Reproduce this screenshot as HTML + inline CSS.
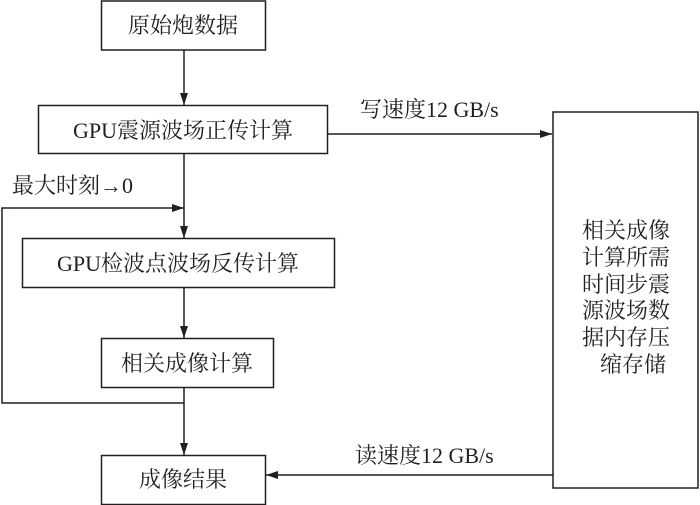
<!DOCTYPE html>
<html><head><meta charset="utf-8"><style>
html,body{margin:0;padding:0;background:#fff;}
svg{display:block;}
text{font-family:"Liberation Serif","Noto Serif CJK SC",serif;font-size:22px;fill:#231f20;}
</style></head><body>
<svg width="700" height="505" viewBox="0 0 700 505" xmlns="http://www.w3.org/2000/svg">
<defs><marker id="a" markerWidth="12" markerHeight="8" refX="12" refY="4" orient="auto" markerUnits="userSpaceOnUse"><path d="M0,0 L12,4 L0,8 Z" fill="#231f20"/></marker></defs>
<g fill="none" stroke="#231f20" stroke-width="1.5">
<rect x="101.5" y="1" width="164" height="49"/>
<rect x="38.5" y="105.5" width="289" height="48"/>
<rect x="22.5" y="238.5" width="312" height="49"/>
<rect x="101.5" y="338.5" width="172" height="49"/>
<rect x="101.5" y="455.5" width="164" height="49"/>
<rect x="553" y="112" width="145" height="376"/>
<line x1="184" y1="50" x2="184" y2="105" marker-end="url(#a)"/>
<line x1="184" y1="154" x2="184" y2="238" marker-end="url(#a)"/>
<line x1="184" y1="288" x2="184" y2="338" marker-end="url(#a)"/>
<line x1="184" y1="388" x2="184" y2="455" marker-end="url(#a)"/>
<polyline points="184,403 2,403 2,208 184,208" marker-end="url(#a)"/>
<line x1="327" y1="134" x2="552" y2="134" marker-end="url(#a)"/>
<line x1="553" y1="475" x2="266" y2="475" marker-end="url(#a)"/>
</g>
<text x="183" y="33" text-anchor="middle">原始炮数据</text>
<text x="183" y="138" text-anchor="middle">GPU震源波场正传计算</text>
<text x="178" y="271" text-anchor="middle">GPU检波点波场反传计算</text>
<text x="187" y="371" text-anchor="middle">相关成像计算</text>
<text x="183" y="487" text-anchor="middle">成像结果</text>
<text x="12" y="193">最大时刻→0</text>
<text x="360" y="117">写速度12 GB/s</text>
<text x="355" y="463">读速度12 GB/s</text>
<g text-anchor="middle">
<text x="626" y="238">相关成像</text>
<text x="626" y="265">计算所需</text>
<text x="626" y="292">时间步震</text>
<text x="626" y="318">源波场数</text>
<text x="626" y="345">据内存压</text>
<text x="633" y="372">缩存储</text>
</g>
</svg>
</body></html>
